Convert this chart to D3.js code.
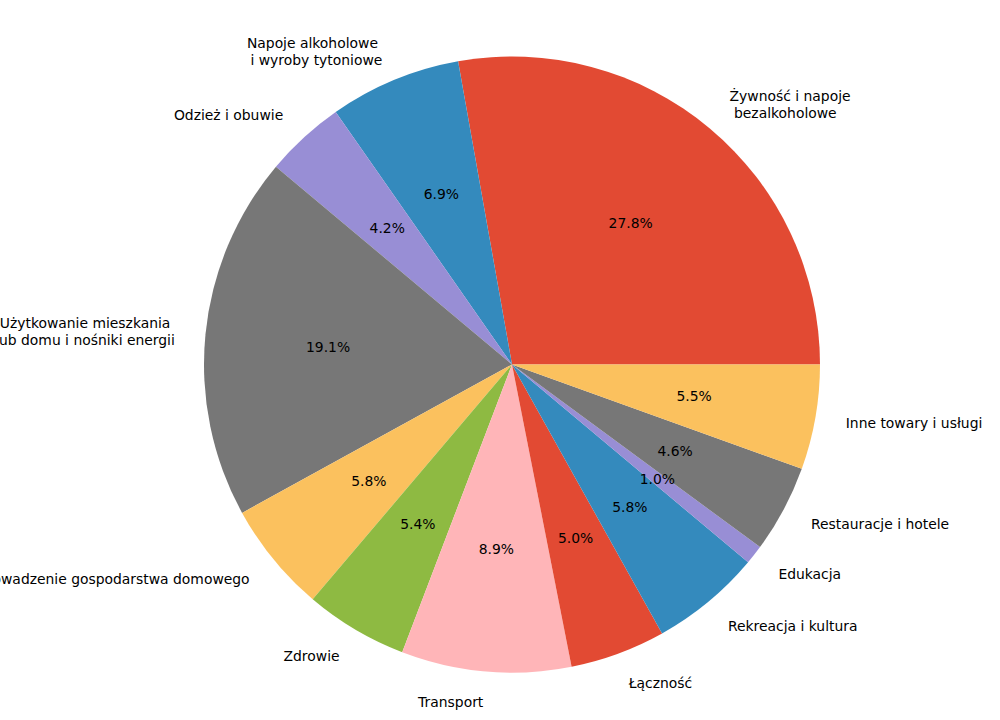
<!DOCTYPE html>
<html lang="en">
<head>
<meta charset="UTF-8">
<title>Struktura wydatków</title>
<style>
    body { margin: 0; background: #fff; }
    text { font-family: "DejaVu Sans", sans-serif; font-size: 13.9px; fill: #000; }
</style>
</head>
<body>
<svg width="1000" height="720"></svg>
<script src="https://d3js.org/d3.v7.min.js"></script>
<script>
    // data, in drawing order (counterclockwise from 3 o'clock)
    const categories = [
        "Żywność i napoje\n bezalkoholowe",
        "Napoje alkoholowe \n i wyroby tytoniowe",
        "Odzież i obuwie",
        "Użytkowanie mieszkania \nlub domu i nośniki energii",
        "Wyposażenie mieszkania i prowadzenie gospodarstwa domowego",
        "Zdrowie",
        "Transport",
        "Łączność",
        "Rekreacja i kultura",
        "Edukacja",
        "Restauracje i hotele",
        "Inne towary i usługi"
    ];
    const shares = [27.8, 6.9, 4.2, 19.1, 5.8, 5.4, 8.9, 5.0, 5.8, 1.0, 4.6, 5.5];
    const palette = ["#E24A33", "#348ABD", "#988ED5", "#777777", "#FBC15E", "#8EBA42", "#FFB5B8"];

    const svg = d3.select("svg");
    const cx = 512, cy = 364.5, r = 308;
    const lineH = 16.7;

    const color = d3.scaleOrdinal().domain(d3.range(categories.length)).range(palette);

    const pie = d3.pie()
        .sort(null)
        .value(d => d)
        .startAngle(Math.PI / 2)
        .endAngle(Math.PI / 2 - 2 * Math.PI);

    const arcs = pie(shares);
    const arc = d3.arc().innerRadius(0).outerRadius(r);

    const g = svg.append("g").attr("transform", `translate(${cx},${cy})`);

    g.selectAll("path")
        .data(arcs)
        .enter().append("path")
        .attr("d", arc)
        .attr("fill", (d, i) => color(i));

    const mid = d => (d.startAngle + d.endAngle) / 2;

    // percentage labels at 0.6 r
    g.selectAll("text.pct")
        .data(arcs)
        .enter().append("text")
        .attr("class", "pct")
        .attr("x", d => 0.6 * r * Math.sin(mid(d)))
        .attr("y", d => -0.6 * r * Math.cos(mid(d)))
        .attr("text-anchor", "middle")
        .attr("dominant-baseline", "central")
        .text(d => d.value.toFixed(1) + "%");

    // category labels at 1.1 r
    const labels = g.selectAll("text.lab")
        .data(arcs)
        .enter().append("text")
        .attr("class", "lab")
        .attr("xml:space", "preserve")
        .attr("text-anchor", d => Math.sin(mid(d)) > 0 ? "start" : "end")
        .attr("dominant-baseline", "central");

    labels.each(function (d, i) {
        const x = 1.1 * r * Math.sin(mid(d));
        const y = -1.1 * r * Math.cos(mid(d));
        const lines = categories[i].split("\n");
        const y0 = y - (lines.length - 1) * lineH / 2;
        d3.select(this).selectAll("tspan")
            .data(lines)
            .enter().append("tspan")
            .attr("x", x)
            .attr("y", (l, k) => y0 + k * lineH)
            .text(l => l);
    });
</script>
</body>
</html>
